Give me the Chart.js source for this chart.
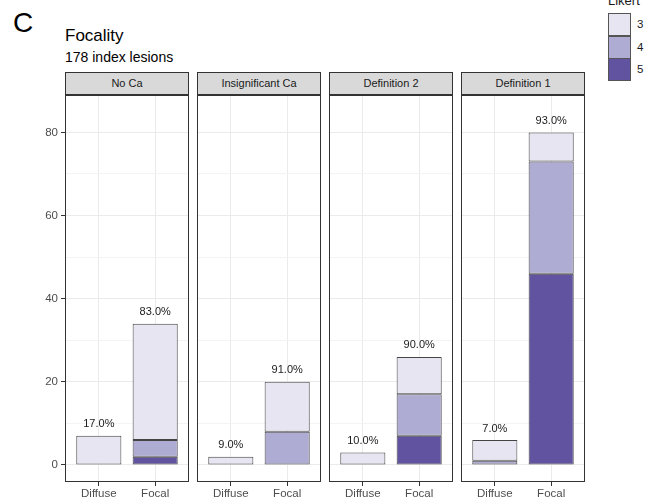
<!DOCTYPE html>
<html>
<head>
<meta charset="utf-8">
<script src="https://cdn.jsdelivr.net/npm/chart.js@4/dist/chart.umd.min.js"></script>
<style>
  html, body { margin: 0; padding: 0; background: #fff; }
  #page { position: relative; width: 654px; height: 500px; overflow: hidden;
          font-family: 'Liberation Sans', Arial, sans-serif; color: #1a1a1a; }
  .abs { position: absolute; white-space: nowrap; }
  canvas { position: absolute; }
  .strip { position: absolute; box-sizing: border-box; height: 23px; width: 124px;
           background: #d9d9d9; border: 1px solid #333; font-size: 11px; color: #1a1a1a;
           text-align: center; line-height: 21px; }
  .key { position: absolute; left: 608px; width: 23px; height: 23px; box-sizing: border-box;
         border: 1px solid #555; }
  .keylabel { position: absolute; left: 637px; font-size: 11.5px; line-height: 23px; height: 23px; }
</style>
</head>
<body>
<div id="page">
  <div class="abs" style="left:13px; top:9px; font-size:28px; line-height:28px; color:#000;">C</div>
  <div class="abs" style="left:65px; top:27px; font-size:17px; line-height:17px; color:#000;">Focality</div>
  <div class="abs" style="left:65px; top:50px; font-size:14px; line-height:14px; color:#000;">178 index lesions</div>
  <div id="legend"></div>
  <div id="panels"></div>
</div>
<script>
// Facets, x categories and Likert levels
const facetNames = ['No Ca', 'Insignificant Ca', 'Definition 2', 'Definition 1'];
const focalityLabels = ['Diffuse', 'Focal'];
const likertLevels = ['3', '4', '5'];

// Index lesion counts per facet, as [Diffuse, Focal]
const likert3Counts = [[7, 28], [2, 12], [3, 9], [5, 7]];
const likert4Counts = [[0, 4], [0, 8], [0, 10], [1, 27]];
const likert5Counts = [[0, 2], [0, 0], [0, 7], [0, 46]];

// Y axis tick values (every 10; labelled every 20)
const yTickValues = [0, 10, 20, 30, 40, 50, 60, 70, 80];

const countsByLevel = { '3': likert3Counts, '4': likert4Counts, '5': likert5Counts };
const likertColors = { '3': '#e7e5f1', '4': '#aeacd3', '5': '#6153a0' };

const FONT = "'Liberation Sans', Arial, sans-serif";
Chart.defaults.font.family = FONT;

// Panel geometry
const panelLefts = [65, 197, 329, 461];
const panelWidth = 124;
const panelTop = 72;      // top of strip
const stripHeight = 23;
const axisWidth = 65;     // y axis area of the first panel

// Legend
const legend = document.getElementById('legend');
const title = document.createElement('div');
title.className = 'abs';
title.style.cssText = 'left:608px; top:-6px; font-size:13px; line-height:13px;';
title.textContent = 'Likert';
legend.appendChild(title);
likertLevels.forEach((lvl, i) => {
  const key = document.createElement('div');
  key.className = 'key';
  key.style.top = (13 + i * 22.5) + 'px';
  key.style.background = likertColors[lvl];
  legend.appendChild(key);
  const lab = document.createElement('div');
  lab.className = 'keylabel';
  lab.style.top = (13 + i * 22.5) + 'px';
  lab.textContent = lvl;
  legend.appendChild(lab);
});

// Percentage of each bar within its facet, drawn above the stack
const totalsLabels = {
  id: 'totalsLabels',
  afterDatasetsDraw(chart, args, opts) {
    const f = opts.facet;
    const { ctx } = chart;
    const xs = chart.scales.x, ys = chart.scales.y;
    const totals = focalityLabels.map((_, i) =>
      likertLevels.reduce((s, lvl) => s + countsByLevel[lvl][f][i], 0));
    const facetTotal = totals.reduce((a, b) => a + b, 0);
    ctx.save();
    ctx.font = '11px ' + FONT;
    ctx.fillStyle = '#1a1a1a';
    ctx.textAlign = 'center';
    ctx.textBaseline = 'middle';
    totals.forEach((t, i) => {
      const pct = Math.round(100 * t / facetTotal).toFixed(1) + '%';
      ctx.fillText(pct, xs.getPixelForValue(i + 1), ys.getPixelForValue(t) - 11.5);
    });
    ctx.restore();
  }
};

// Dark border around each panel
const panelBorder = {
  id: 'panelBorder',
  afterDraw(chart) {
    const { ctx, chartArea: a } = chart;
    ctx.save();
    ctx.strokeStyle = '#333';
    ctx.lineWidth = 1;
    ctx.strokeRect(a.left + 0.5, a.top + 0.5, a.right - a.left - 1, a.bottom - a.top - 1);
    ctx.restore();
  }
};

const panels = document.getElementById('panels');
facetNames.forEach((name, f) => {
  const strip = document.createElement('div');
  strip.className = 'strip';
  strip.style.left = panelLefts[f] + 'px';
  strip.style.top = panelTop + 'px';
  strip.textContent = name;
  panels.appendChild(strip);

  const first = f === 0;
  const canvas = document.createElement('canvas');
  const cLeft = first ? panelLefts[f] - axisWidth : panelLefts[f];
  const cWidth = first ? panelWidth + axisWidth : panelWidth;
  canvas.width = cWidth;
  canvas.height = 500 - panelTop;
  canvas.style.left = cLeft + 'px';
  canvas.style.top = panelTop + 'px';
  canvas.style.width = cWidth + 'px';
  canvas.style.height = (500 - panelTop) + 'px';
  panels.appendChild(canvas);

  new Chart(canvas, {
    type: 'bar',
    data: {
      datasets: ['5', '4', '3'].map(lvl => ({
        label: lvl,
        data: focalityLabels.map((_, i) => ({ x: i + 1, y: countsByLevel[lvl][f][i] })),
        backgroundColor: likertColors[lvl],
        borderColor: '#444',
        borderWidth: 1,
        borderSkipped: false,
        barPercentage: 0.8,
        categoryPercentage: 1
      }))
    },
    options: {
      responsive: false,
      animation: false,
      devicePixelRatio: 1,
      layout: { padding: { top: stripHeight, left: 0, right: 0, bottom: 0 } },
      plugins: {
        legend: { display: false },
        tooltip: { enabled: false },
        totalsLabels: { facet: f }
      },
      scales: {
        x: {
          type: 'linear',
          min: 0.4,
          max: 2.6,
          offset: false,
          stacked: true,
          afterBuildTicks: s => { s.ticks = focalityLabels.map((_, i) => ({ value: i + 1 })); },
          afterFit: s => { s.height = 18; },
          ticks: {
            callback: (v, i) => focalityLabels[i],
            color: '#4d4d4d',
            font: { size: 11.5 },
            padding: 1,
            maxRotation: 0,
            autoSkip: false
          },
          grid: { offset: false, color: '#ebebeb', lineWidth: 1, tickColor: '#333', tickLength: 4, drawTicks: true },
          border: { display: false }
        },
        y: {
          type: 'linear',
          min: -4.1,
          max: 89,
          stacked: true,
          afterBuildTicks: s => { s.ticks = yTickValues.map(v => ({ value: v })); },
          afterFit: s => { s.width = first ? axisWidth : 0; },
          ticks: {
            display: first,
            callback: v => (v % 20 === 0 ? String(v) : ''),
            color: '#4d4d4d',
            font: { size: 11.5 },
            padding: 3
          },
          grid: {
            color: c => (c.tick && c.tick.value % 20 === 0 ? '#ebebeb' : '#f4f4f4'),
            lineWidth: 1,
            tickColor: c => (c.tick && c.tick.value % 20 === 0 ? '#333' : 'rgba(0,0,0,0)'),
            tickLength: 4,
            drawTicks: first
          },
          border: { display: false }
        }
      }
    },
    plugins: [totalsLabels, panelBorder]
  });
});
</script>
</body>
</html>
